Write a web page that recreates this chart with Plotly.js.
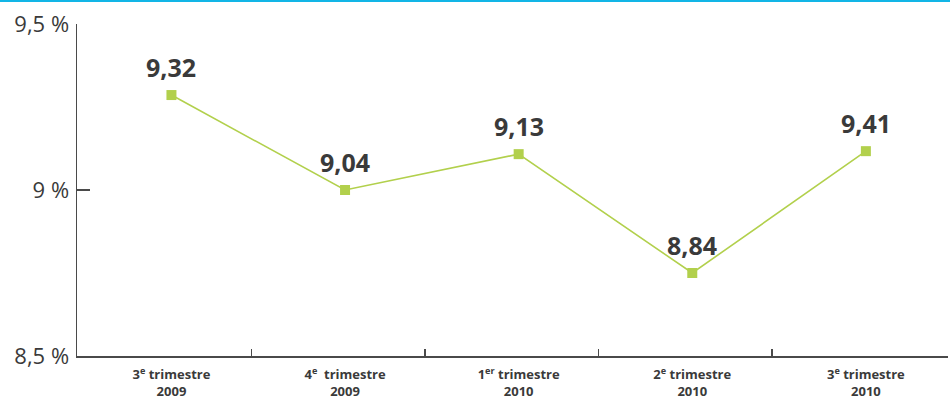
<!DOCTYPE html>
<html>
<head>
<meta charset="utf-8">
<script src="https://cdn.plot.ly/plotly-3.0.1.min.js"></script>
<style>
html,body{margin:0;padding:0;background:#fff;}
#wrap{position:relative;width:950px;height:400px;}
#topbar{position:absolute;left:0;top:0;width:950px;height:2px;background:#12b5e6;z-index:10;}
#chart{width:950px;height:400px;}
</style>
</head>
<body>
<div id="wrap"><div id="topbar"></div><div id="chart"></div></div>
<script>
const categories = [
  "3<sup>e</sup> trimestre<br>2009",
  "4<sup>e</sup>  trimestre<br>2009",
  "1<sup>er</sup> trimestre<br>2010",
  "2<sup>e</sup> trimestre<br>2010",
  "3<sup>e</sup> trimestre<br>2010"
];
const values = [9.286, 9.0, 9.108, 8.75, 9.117];
const valueLabels = ["9,32", "9,04", "9,13", "8,84", "9,41"];
const yTickVals = [8.5, 9, 9.5];
const yTickText = ["8,5 %", "9 %", "9,5 %"];

const idx = categories.map((c, i) => i);
const boundaries = idx.slice(0, -1).map(i => i + 0.46);

const green = "#b2d04c";
const axisColor = "#4a4a4a";
const textColor = "#3a3a3a";

const trace = {
  x: idx,
  y: values,
  type: "scatter",
  mode: "lines+markers",
  line: {color: green, width: 1.6},
  marker: {symbol: "square", size: 10, color: green},
  hoverinfo: "skip",
  showlegend: false
};

const tickTrace = {
  x: idx,
  y: values,
  xaxis: "x2",
  type: "scatter",
  mode: "none",
  hoverinfo: "skip",
  showlegend: false
};

const annotations = idx.map(i => ({
  x: i, y: values[i], xref: "x", yref: "y",
  text: valueLabels[i], showarrow: false,
  yshift: 28,
  font: {family: "Open Sans, sans-serif", size: 25, color: textColor, weight: 700}
}));

const layout = {
  width: 950, height: 400,
  margin: {l: 77, r: 2, t: 24, b: 44},
  paper_bgcolor: "#fff", plot_bgcolor: "#fff",
  xaxis: {
    range: [-0.544, 4.473],
    tickmode: "array", tickvals: idx, ticktext: categories,
    ticks: "", showgrid: false, zeroline: false,
    showline: true, linecolor: axisColor, linewidth: 1.5,
    ticklabelstandoff: 6,
    tickfont: {family: "Open Sans, sans-serif", size: 13, color: textColor, weight: 700},
    fixedrange: true
  },
  xaxis2: {
    overlaying: "x", matches: "x", range: [-0.544, 4.473],
    tickmode: "array", tickvals: boundaries, ticktext: boundaries.map(() => ""),
    ticks: "inside", ticklen: 7, tickwidth: 1.5, tickcolor: axisColor,
    showgrid: false, zeroline: false, showline: false, showticklabels: false
  },
  yaxis: {
    range: [8.5, 9.5],
    tickmode: "array", tickvals: yTickVals, ticktext: yTickText,
    ticks: "inside", ticklen: 13, tickwidth: 1.5, tickcolor: axisColor,
    showgrid: false, zeroline: false,
    showline: true, linecolor: axisColor, linewidth: 1.5,
    ticklabelstandoff: 2,
    tickfont: {family: "Open Sans, sans-serif", size: 22, color: textColor},
    fixedrange: true
  },
  annotations: annotations
};

Plotly.newPlot("chart", [trace, tickTrace], layout, {displayModeBar: false, staticPlot: true});
</script>
</body>
</html>
